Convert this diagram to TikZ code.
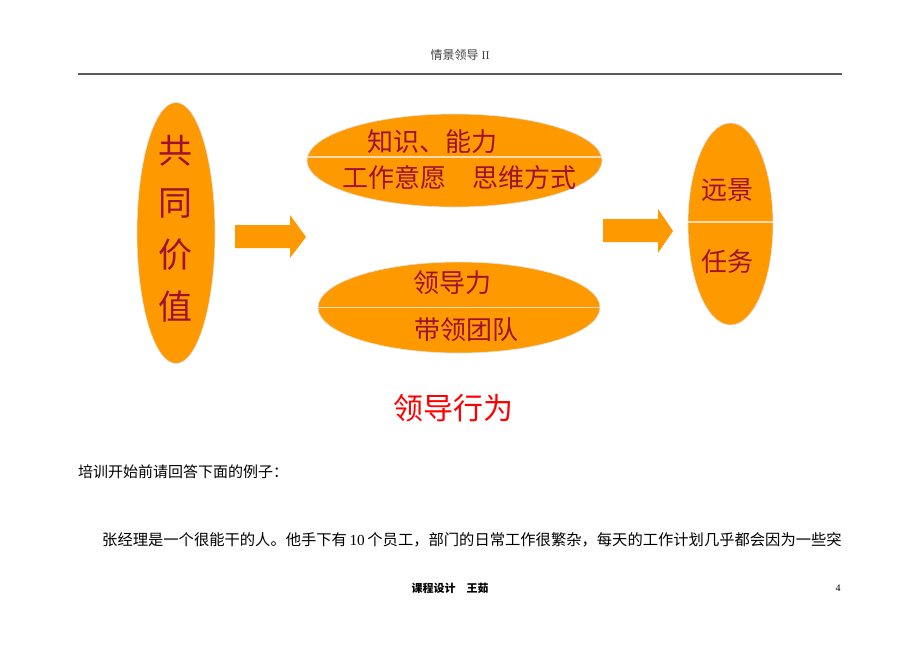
\documentclass[tikz,border=0pt]{standalone}
\usepackage{fontspec}
\setmainfont{Liberation Serif}
\newfontfamily\cjk{Noto Sans CJK SC}
\usetikzlibrary{shapes.geometric}
\definecolor{ovalColor}{RGB}{255,153,0}
\definecolor{wineColor}{RGB}{160,16,48}
\definecolor{ruleColor}{RGB}{90,90,90}

\begin{document}
\begin{tikzpicture}[x=1pt,y=-1pt]

          \tikzstyle{oval} = [ellipse, fill=ovalColor, draw=black!12, line width=0.6pt, inner sep=0pt];
          \tikzstyle{ovalText} = [wineColor, font=\cjk\fontsize{26}{26}\selectfont, inner sep=0pt];
          \tikzstyle{bigText} = [wineColor, font=\cjk\fontsize{34}{34}\selectfont, inner sep=0pt];
          \tikzstyle{divider} = [line width=1.2pt, orange!30!white];
          \tikzstyle{blockArrow} = [fill=ovalColor];
          \tikzstyle{bodyText} = [font=\cjk\fontsize{15}{15}\selectfont, inner sep=0pt, anchor=west];

          \fill[white] (0,0) rectangle (920,651);
          \useasboundingbox (0,0) rectangle (920,651);

          % header
          \node[font=\fontsize{12}{12}\selectfont, black!75] (head) at (460,55) {{\cjk 情景领导} II};
          \draw[ruleColor, line width=1.3pt] (78,74) -- (842,74);

          % ovals
          \node[oval, minimum width=78pt, minimum height=261pt] (values) at (176,233) {};
          \node[oval, minimum width=295pt, minimum height=93pt] (know) at (454.5,160.5) {};
          \node[oval, minimum width=282pt, minimum height=91pt] (lead) at (459,307.5) {};
          \node[oval, minimum width=85pt, minimum height=202pt] (vision) at (730.5,224) {};

          \draw[divider] ([yshift=3.5pt]know.west) -- ([yshift=3.5pt]know.east);
          \draw[divider] (lead.west) -- (lead.east);
          \draw[divider] ([yshift=2pt]vision.west) -- ([yshift=2pt]vision.east);

          % block arrows
          \fill[blockArrow] (235,225) -- (290,225) -- (290,215) -- (306,237) -- (290,258) -- (290,248) -- (235,248) -- cycle;
          \fill[blockArrow] (603,219) -- (658,219) -- (658,209) -- (673,231) -- (658,253) -- (658,242) -- (603,242) -- cycle;

          % texts
          \foreach \ch [count=\i] in {共,同,价,值}
            \node[bigText] (v\i) at (175,99+52*\i) {\ch};
          \node[ovalText] (know1) at (432,142) {知识、能力};
          \node[ovalText] (know2) at (459,178) {工作意愿　思维方式};
          \node[ovalText] (lead1) at (452,283) {领导力};
          \node[ovalText] (lead2) at (466,330) {带领团队};
          \node[ovalText] (vision1) at (727,190) {远景};
          \node[ovalText] (vision2) at (727,262) {任务};

          \node[red, font=\cjk\fontsize{30}{30}\selectfont, inner sep=0pt] (title) at (453,408) {领导行为};

          \node[bodyText] (ask) at (78,472) {培训开始前请回答下面的例子：};
          \node[bodyText, font=\cjk\fontsize{15.3}{15.3}\selectfont] (story) at (102,540) {张经理是一个很能干的人。他手下有\,{\rmfamily 10}\,个员工，部门的日常工作很繁杂，每天的工作计划几乎都会因为一些突};

          % footer
          \node[font=\cjk\bfseries\fontsize{11}{11}\selectfont, inner sep=0pt] (foot) at (450,588) {课程设计　王茹};
          \node[font=\fontsize{10}{10}\selectfont, inner sep=0pt] (page) at (838,588) {4};
        \end{tikzpicture}
\end{document}
